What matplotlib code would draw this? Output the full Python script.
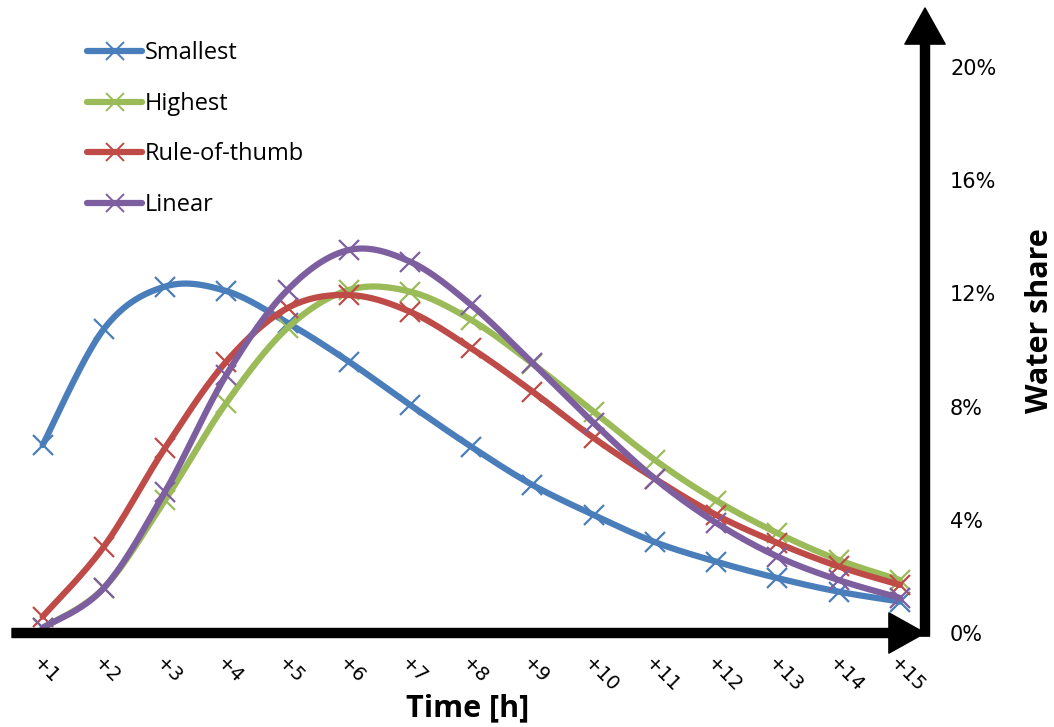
import numpy as np
import matplotlib
matplotlib.use("Agg")
from matplotlib import pyplot as plt
from matplotlib.ticker import PercentFormatter

hours = list(range(1, 16))
hour_labels = ["+%d" % h for h in hours]

# water share per hour (fraction)
smallest = [0.0664, 0.1074, 0.1224, 0.1208, 0.1096, 0.0959, 0.0806, 0.0658, 0.0523,
            0.0417, 0.0321, 0.0252, 0.0194, 0.0146, 0.0111]
highest = [0.0018, 0.0159, 0.0470, 0.0813, 0.1078, 0.1212, 0.1206, 0.1106, 0.0952,
           0.0782, 0.0611, 0.0468, 0.0353, 0.0258, 0.0187]
rule_of_thumb = [0.0058, 0.0305, 0.0654, 0.0959, 0.1148, 0.1194, 0.1135, 0.1006, 0.0853,
                 0.0689, 0.0545, 0.0417, 0.0318, 0.0235, 0.0170]
linear = [0.0018, 0.0159, 0.0499, 0.0912, 0.1212, 0.1353, 0.1312, 0.1159, 0.0954,
          0.0742, 0.0545, 0.0389, 0.0270, 0.0187, 0.0124]

series = [("Smallest", smallest, "#4A7EBB"),
          ("Highest", highest, "#9BBB59"),
          ("Rule-of-thumb", rule_of_thumb, "#BE4B48"),
          ("Linear", linear, "#7D5FA0")]


def smooth(x, y, n=30):
    # bezier curve through the points, same as a spreadsheet "smoothed line"
    p = np.column_stack([x, y]).astype(float)
    pts = np.vstack([p[0], p, p[-1]])
    t = np.linspace(0, 1, n)[:, None]
    out = []
    for i in range(len(p) - 1):
        p0, p1, p2, p3 = pts[i], pts[i + 1], pts[i + 2], pts[i + 3]
        c1 = p1 + (p2 - p0) / 6
        c2 = p2 - (p3 - p1) / 6
        seg = ((1 - t) ** 3) * p1 + 3 * ((1 - t) ** 2) * t * c1 + 3 * (1 - t) * t ** 2 * c2 + t ** 3 * p2
        out.append(seg if i == 0 else seg[1:])
    out = np.vstack(out)
    return out[:, 0], out[:, 1]


fig = plt.figure(figsize=(10.54, 7.27), dpi=100)
ax = fig.add_axes([12 / 1054, 94 / 727, 913 / 1054, 625 / 727])

for name, vals, col in series:
    sx, sy = smooth(hours, vals)
    ax.plot(sx, sy, color=col, lw=4.5, solid_capstyle="round", zorder=3)
    ax.plot(hours, vals, ls="none", marker="x", ms=15, mew=1.6, color=col, zorder=3)
    # legend handle
    ax.plot([], [], color=col, lw=4.5, marker="x", ms=13, mew=1.4,
            solid_capstyle="round", label=name)

ax.set_xlim(0.5, 15.41)
ax.set_ylim(0, 0.2208)

for s in ax.spines.values():
    s.set_visible(False)

# arrow axes
ax.annotate("", xy=(1.0, 0), xytext=(0, 0), xycoords="axes fraction",
            arrowprops=dict(width=6.5, headwidth=29, headlength=26, color="black",
                            shrink=0), zorder=5, annotation_clip=False)
ax.annotate("", xy=(1.0, 1.0), xytext=(1.0, -0.005), xycoords="axes fraction",
            arrowprops=dict(width=6.5, headwidth=29, headlength=26, color="black",
                            shrink=0), zorder=5, annotation_clip=False)

ax.set_xticks(hours)
ax.set_xticklabels(hour_labels, rotation=-45, ha="left", va="top",
                   rotation_mode="anchor", fontsize=14, family="DejaVu Sans")
ax.tick_params(axis="x", length=0, pad=15)

ax.yaxis.tick_right()
ax.set_yticks([0, 0.04, 0.08, 0.12, 0.16, 0.20])
ax.yaxis.set_major_formatter(PercentFormatter(1.0, decimals=0))
ax.tick_params(axis="y", length=0, pad=18, labelsize=15)

fig.text(468 / 1054, 11 / 727, "Time [h]", ha="center", va="baseline",
         fontsize=22, fontweight="bold", family="Open Sans")
fig.text(1040 / 1054, 1 - 321 / 727, "Water share", ha="center", va="center", rotation=90,
         fontsize=22, fontweight="bold", family="Open Sans")

leg = ax.legend(loc="upper left", bbox_to_anchor=(66 / 913, 1.0 - 24 / 625), frameon=False,
                handlelength=2.3, handletextpad=0.12, labelspacing=1.12,
                prop={"size": 17, "family": ["Open Sans"]}, borderaxespad=0)

fig.savefig("out.png", dpi=100, facecolor="white")
